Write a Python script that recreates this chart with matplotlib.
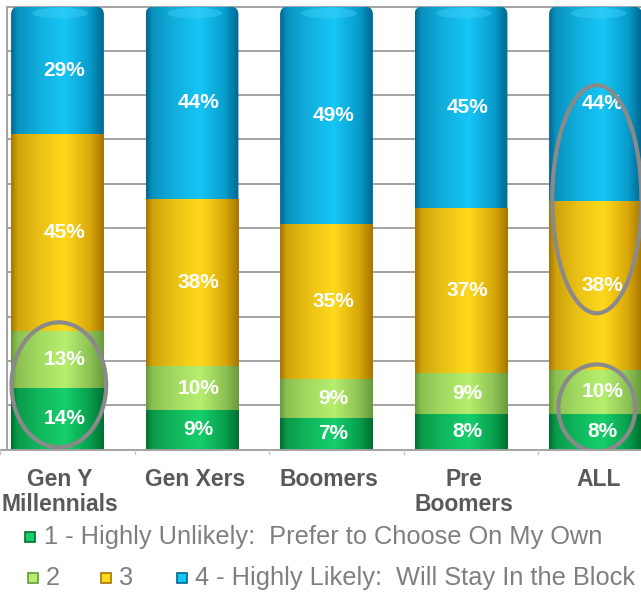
import matplotlib
matplotlib.use('Agg')
import matplotlib.pyplot as plt
import numpy as np
from matplotlib.colors import LinearSegmentedColormap, to_rgb
from matplotlib.patches import Ellipse, FancyBboxPatch, Rectangle
from matplotlib.lines import Line2D

plt.rcParams['font.family'] = ['Liberation Sans', 'DejaVu Sans']

# ---------------------------------------------------------------- data
categories = ['Gen Y\nMillennials', 'Gen Xers', 'Boomers', 'Pre\nBoomers', 'ALL']
series = ['1 - Highly Unlikely:  Prefer to Choose On My Own', '2', '3',
          '4 - Highly Likely:  Will Stay In the Block']
s1 = [14, 9, 7, 8, 8]
s2 = [13, 10, 9, 9, 10]
s3 = [45, 38, 35, 37, 38]
s4 = [29, 44, 49, 45, 44]

# circled areas: (category, centre %, height %, width as share of bar)
circled = [(0, 14.6, 28.2, 1.02), (4, 56.5, 51.5, 0.96), (4, 9.4, 19.6, 0.83)]

# ---------------------------------------------------------------- style
# (dark edge, bright centre, right edge) for each series
shades = [('#006f30', '#16cf6c', '#00853d'),
          ('#679a3a', '#b6ef6e', '#78aa48'),
          ('#a67600', '#ffd91c', '#c58e00'),
          ('#006690', '#16c6f6', '#0086b6')]

vals = np.array([s1, s2, s3, s4], dtype=float)
pct = vals / vals.sum(axis=0) * 100      # 100% stacked
bottoms = np.vstack([np.zeros(len(categories)), np.cumsum(pct, axis=0)[:-1]])

W, H = 641, 592
fig = plt.figure(figsize=(W / 100, H / 100), dpi=100)
px = 134.5          # pixels per category
py = 4.43           # pixels per percent
x0 = 57.5           # pixel centre of first bar
ax_left = 6.7
base = 449.5
ax = fig.add_axes([ax_left / W, 1 - base / H, 1 - ax_left / W, base / H])
ax.set_xlim((ax_left - x0) / px, (W - x0) / px)
ax.set_ylim(0, base / py)

ax.set_yticks(np.arange(0, 101, 10))
ax.yaxis.grid(True, color='#a3a3a3', lw=1.4)
ax.set_axisbelow(True)
ax.tick_params(axis='y', length=0, labelleft=False)
for s in ['top', 'right', 'bottom']:
    ax.spines[s].set_visible(False)
ax.spines['left'].set_color('#a3a3a3')
ax.spines['left'].set_bounds(0, 100)
ax.spines['left'].set_linewidth(1.4)

bw = 0.69
grad = np.linspace(0, 1, 256).reshape(1, -1)


def mix(a, b, t):
    a, b = np.array(to_rgb(a)), np.array(to_rgb(b))
    return tuple(a + (b - a) * t)


def cmap_for(k):
    d, b, r = shades[k]
    return LinearSegmentedColormap.from_list('s%d' % k,
        [(0, d), (0.07, mix(d, b, 0.45)), (0.3, mix(d, b, 0.75)),
         (0.58, b), (0.85, mix(r, b, 0.35)), (1, d)])


xs = np.arange(len(categories))
# top (blue) segments drawn first as full-height rounded cylinders
for i in xs:
    top = bottoms[3, i] + pct[3, i]
    box = FancyBboxPatch((i - bw / 2, 0), bw, top,
                         boxstyle='round,pad=0,rounding_size=0.06',
                         mutation_aspect=1.8 / 0.06, fc='none', ec='none')
    ax.add_patch(box)
    im = ax.imshow(grad, cmap=cmap_for(3), aspect='auto',
                   extent=(i - bw / 2, i + bw / 2, 0, top), zorder=2)
    im.set_clip_path(box)
    hl = Ellipse((i + 0.02, top - 1.5), bw * 0.6, 2.4, fc='#4fd6ff',
                 ec='none', alpha=0.35, zorder=3)
    ax.add_patch(hl)
    hl.set_clip_path(box)

for k in range(3):
    bars = ax.bar(xs, pct[k], bw, bottom=bottoms[k], color='none',
                  edgecolor='none', zorder=3)
    for i, rect in enumerate(bars):
        im = ax.imshow(grad, cmap=cmap_for(k), aspect='auto',
                       extent=(i - bw / 2, i + bw / 2, bottoms[k, i],
                               bottoms[k, i] + pct[k, i]), zorder=3)
        im.set_clip_path(rect)

for k in range(4):
    for i in xs:
        ax.text(i + 0.05, bottoms[k, i] + pct[k, i] / 2, '%d%%' % vals[k, i],
                ha='center', va='center', color='white', fontsize=15,
                fontweight='bold', zorder=6)

for i, yc, hh, ww in circled:
    ax.add_patch(Ellipse((i + 0.01, yc), bw * ww, hh, fc='none',
                         ec='#8a8a8a', lw=3, zorder=7))

ax.set_xticks([])
for i, c in enumerate(categories):
    ax.text(i + 0.02, -4.2, c, ha='center', va='top', fontsize=16.5,
            fontweight='bold', color='#595959', linespacing=1.1)

# baseline and category ticks
fig.add_artist(Line2D([0, 1], [1 - base / H] * 2, color='#a3a3a3', lw=1.4))
for i in range(len(categories)):
    xt = (x0 + (i - 0.5) * px + 10) / W
    fig.add_artist(Line2D([xt, xt], [1 - base / H, 1 - (base + 4) / H],
                          color='#c8c8c8', lw=1))

# legend
legend_pos = [(25, 44, 537), (28, 46, 578), (101, 119, 578), (177, 195, 578)]
for k, (mx, tx, ty) in enumerate(legend_pos):
    fig.add_artist(Rectangle((mx / W, 1 - (ty + 5) / H), 10 / W, 10 / H,
                             transform=fig.transFigure, fc=shades[k][1],
                             ec=shades[k][0], lw=1.2))
    fig.text(tx / W, 1 - ty / H, series[k], ha='left', va='center',
             fontsize=18.3, color='#7f7f7f')

fig.savefig('out.png', dpi=100)
